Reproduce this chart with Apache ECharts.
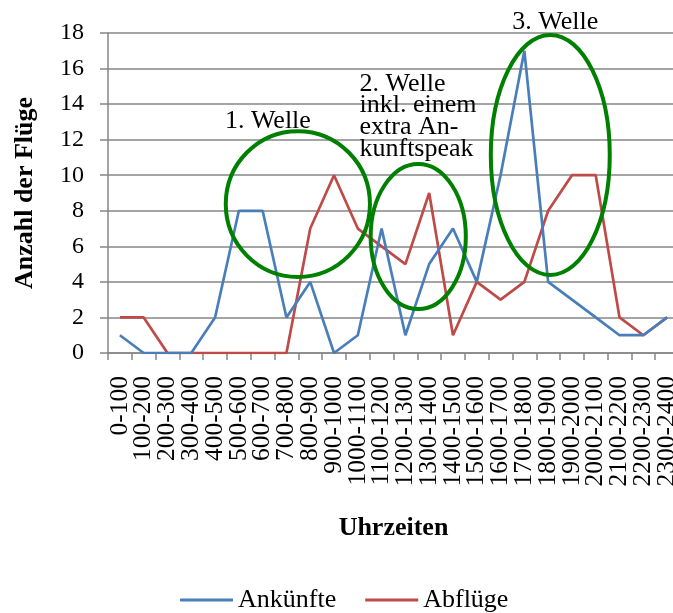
<!DOCTYPE html>
<html>
<head>
<meta charset="utf-8">
<script src="https://cdn.jsdelivr.net/npm/echarts@6/dist/echarts.min.js"></script>
<style>
  html, body { margin: 0; padding: 0; background: #fff; }
  #chart { width: 673px; height: 613px; }
</style>
</head>
<body>
<div id="chart"></div>
<script>
// Hourly time slots
const categories = [
  '0-100', '100-200', '200-300', '300-400', '400-500', '500-600',
  '600-700', '700-800', '800-900', '900-1000', '1000-1100', '1100-1200',
  '1200-1300', '1300-1400', '1400-1500', '1500-1600', '1600-1700', '1700-1800',
  '1800-1900', '1900-2000', '2000-2100', '2100-2200', '2200-2300', '2300-2400'
];

// Number of arrivals per slot
const ankuenfte = [1, 0, 0, 0, 2, 8, 8, 2, 4, 0, 1, 7, 1, 5, 7, 4, 10, 17, 4, 3, 2, 1, 1, 2];

// Number of departures per slot
const abfluege = [2, 2, 0, 0, 0, 0, 0, 0, 7, 10, 7, 6, 5, 9, 1, 4, 3, 4, 8, 10, 10, 2, 1, 2];

// Wave annotations: ellipse centre (slot index, count) and radii (slots, count)
const waveEllipses = [
  { cx: 7.48, cy: 8.38, rx: 3.03, ry: 4.1 },
  { cx: 12.54, cy: 6.55, rx: 2.0, ry: 4.08 },
  { cx: 18.09, cy: 11.14, rx: 2.5, ry: 6.75 }
];
const waveLabels = [
  { x: 6.22, y: 13.05, text: '1. Welle', align: 'center', verticalAlign: 'middle' },
  { x: 10.07, y: 15.75, text: '2. Welle\ninkl. einem\nextra An-\nkunftspeak', align: 'left', verticalAlign: 'top' },
  { x: 18.3, y: 18.6, text: '3. Welle', align: 'center', verticalAlign: 'middle' }
];

const serif = '"Liberation Serif", "Times New Roman", serif';
const gridColor = '#868686';

const chart = echarts.init(document.getElementById('chart'), null, { renderer: 'canvas' });

chart.setOption({
  animation: false,
  backgroundColor: '#ffffff',
  textStyle: { fontFamily: serif, color: '#000' },
  grid: { left: 108, top: 33, width: 571, bottom: 260, containLabel: false, outerBoundsMode: 'none' },
  legend: {
    left: 180,
    top: 587,
    padding: 0,
    icon: 'rect',
    itemWidth: 53,
    itemHeight: 3,
    itemGap: 29,
    textStyle: { fontFamily: serif, fontSize: 26, color: '#000' },
    data: ['Ankünfte', 'Abflüge']
  },
  xAxis: {
    type: 'category',
    data: categories,
    boundaryGap: true,
    name: 'Uhrzeiten',
    nameLocation: 'middle',
    nameGap: 162,
    nameTextStyle: { fontFamily: serif, fontSize: 26, fontWeight: 'bold', color: '#000' },
    axisLine: { lineStyle: { color: gridColor, width: 1.5 } },
    axisTick: { show: true, length: 7, inside: false, lineStyle: { color: gridColor, width: 1.5 } },
    axisLabel: {
      interval: 0,
      rotate: 90,
      margin: 23,
      fontFamily: serif,
      fontSize: 25.5,
      color: '#000'
    },
    splitLine: { show: false }
  },
  yAxis: {
    type: 'value',
    min: 0,
    max: 18,
    interval: 2,
    name: 'Anzahl der Flüge',
    nameLocation: 'middle',
    nameRotate: 90,
    nameGap: 70,
    nameTextStyle: { fontFamily: serif, fontSize: 26, fontWeight: 'bold', color: '#000' },
    axisLine: { show: true, lineStyle: { color: gridColor, width: 1.5 } },
    axisTick: { show: true, length: 8, inside: false, lineStyle: { color: gridColor, width: 1.5 } },
    axisLabel: { margin: 24, fontFamily: serif, fontSize: 24, color: '#000' },
    splitLine: { show: true, lineStyle: { color: gridColor, width: 1.5 } }
  },
  series: [
    {
      name: 'Ankünfte',
      type: 'line',
      data: ankuenfte,
      symbol: 'none',
      smooth: false,
      color: '#4a7ebb',
      lineStyle: { color: '#4a7ebb', width: 2.7 },
      z: 3
    },
    {
      name: 'Abflüge',
      type: 'line',
      data: abfluege,
      symbol: 'none',
      smooth: false,
      color: '#be4b48',
      lineStyle: { color: '#be4b48', width: 2.7 },
      z: 2
    }
  ]
});

// Category positions only convert at whole indices, so interpolate between them
const origin = chart.convertToPixel({ gridIndex: 0 }, [0, 0]);
const unit = chart.convertToPixel({ gridIndex: 0 }, [1, 1]);
const slotW = unit[0] - origin[0];
const countH = origin[1] - unit[1];
function toPx(x, y) {
  return [origin[0] + x * slotW, origin[1] - y * countH];
}

// Place the wave ellipses and their captions in data space
const graphics = [];
waveEllipses.forEach(function (e) {
  const c = toPx(e.cx, e.cy);
  graphics.push({
    type: 'ellipse',
    shape: { cx: c[0], cy: c[1], rx: e.rx * slotW, ry: e.ry * countH },
    style: { fill: null, stroke: '#008000', lineWidth: 4 },
    z: 10
  });
});
waveLabels.forEach(function (l) {
  const p = toPx(l.x, l.y);
  graphics.push({
    type: 'text',
    x: p[0],
    y: p[1],
    style: {
      text: l.text,
      font: '26px ' + serif,
      fill: '#000',
      align: l.align,
      verticalAlign: l.verticalAlign,
      lineHeight: 21.7
    },
    z: 11
  });
});
chart.setOption({ graphic: graphics });
</script>
</body>
</html>
